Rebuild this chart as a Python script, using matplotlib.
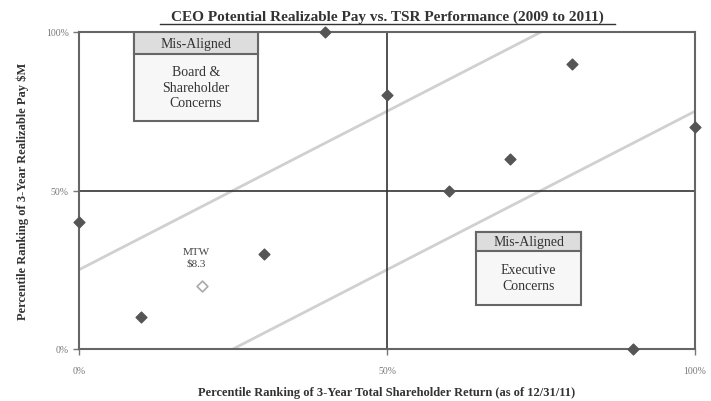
import matplotlib
matplotlib.use("Agg")
import matplotlib.pyplot as plt
from matplotlib.patches import Rectangle

plt.rcParams['font.family'] = ['Liberation Serif', 'DejaVu Serif']

# Data
tsr_rank = [0, 10, 30, 40, 50, 60, 70, 80, 90, 100]
pay_rank = [40, 10, 30, 100, 80, 50, 60, 90, 0, 70]
mtw_x, mtw_y = [20], [20]
mtw_label = "MTW\n$8.3"
ticks = [0, 50, 100]
tick_labels = ["0%", "50%", "100%"]
title = "CEO Potential Realizable Pay vs. TSR Performance (2009 to 2011)"
xlabel = "Percentile Ranking of 3-Year Total Shareholder Return (as of 12/31/11)"
ylabel = "Percentile Ranking of 3-Year Realizable Pay $M"

fig = plt.figure(figsize=(7.11, 4.02), dpi=100)
ax = fig.add_axes([79/711, 1-350/402, 616/711, 317/402])
ax.set_xlim(0, 100)
ax.set_ylim(0, 100)

# Diagonal bands
ax.plot([0, 75], [25, 100], color="#d0d0d0", lw=2, zorder=1)
ax.plot([25, 100], [0, 75], color="#d0d0d0", lw=2, zorder=1)

# Center lines
ax.axvline(50, color="#333333", lw=1.2, zorder=2)
ax.axhline(50, color="#333333", lw=1.2, zorder=2)

for s in ax.spines.values():
    s.set_color("#666666")
    s.set_linewidth(1.5)

# Points
ax.scatter(tsr_rank, pay_rank, marker="D", s=30, color="#555555", zorder=5, clip_on=False)
ax.scatter(mtw_x, mtw_y, marker="D", s=30, facecolor="white", edgecolor="#aaaaaa", lw=1.2, zorder=5)
ax.text(mtw_x[0] - 1, mtw_y[0] + 9, mtw_label, ha="center", va="center", fontsize=8, color="#444444", linespacing=1.3)

# Boxes
def box(x0, x1, y0, y1, hy, body):
    ax.add_patch(Rectangle((x0, y0), x1 - x0, y1 - y0, facecolor="#f7f7f7", edgecolor="#666666", lw=1.5, zorder=6))
    ax.add_patch(Rectangle((x0, y1 - hy), x1 - x0, hy, facecolor="#dddddd", edgecolor="#666666", lw=1.5, zorder=7))
    ax.text((x0 + x1) / 2, y1 - hy / 2, "Mis-Aligned", ha="center", va="center", fontsize=10, color="#333333", zorder=8)
    ax.text((x0 + x1) / 2, (y0 + y1 - hy) / 2, body, ha="center", va="center", fontsize=10, color="#333333", zorder=8, linespacing=1.25)

box(9, 29, 72, 100, 7, "Board &\nShareholder\nConcerns")
box(64.5, 81.5, 14, 37, 6, "Executive\nConcerns")

ax.set_xticks(ticks)
ax.set_xticklabels(tick_labels)
ax.set_yticks(ticks)
ax.set_yticklabels(tick_labels)
ax.tick_params(labelsize=7, colors="#777777", length=4, width=1)
ax.tick_params(axis="x", pad=8)

ax.set_xlabel(xlabel, fontsize=9, fontweight="bold", color="#333333", labelpad=8)
ax.set_ylabel(ylabel, fontsize=9, fontweight="bold", color="#333333", labelpad=12)
fig.text(387/711, 1 - 17/402, title, ha="center", va="center", fontsize=11, fontweight="bold", color="#333333")
# underline
fig.add_artist(plt.Line2D([160/711, 615/711], [1 - 25/402, 1 - 25/402], color="#333333", lw=1))

fig.savefig("out.png", dpi=100)
